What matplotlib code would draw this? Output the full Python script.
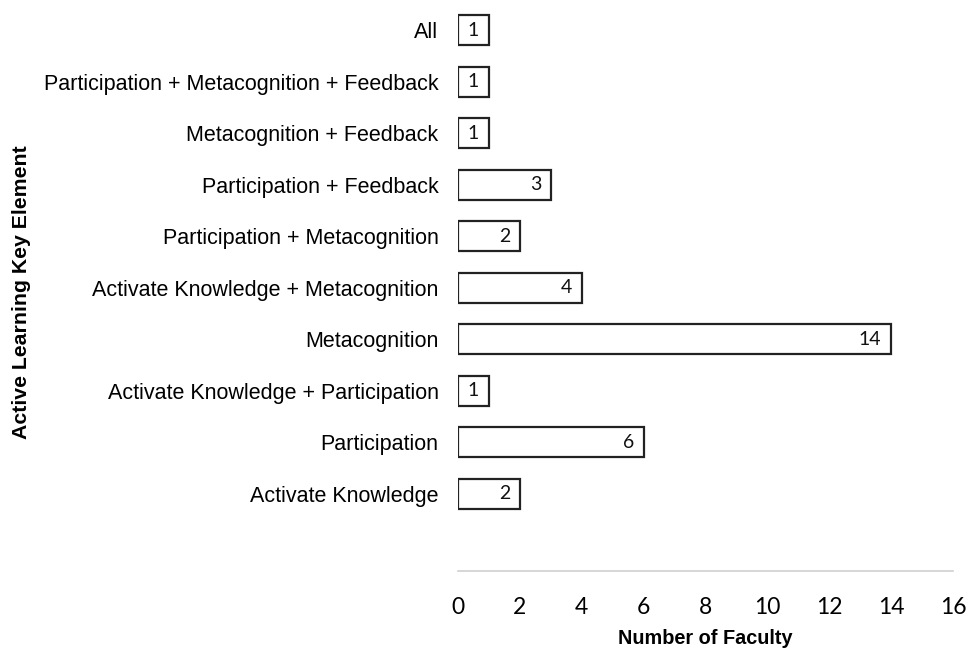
import matplotlib
matplotlib.use("Agg")
import matplotlib.pyplot as plt

categories = [
    "Activate Knowledge",
    "Participation",
    "Activate Knowledge + Participation",
    "Metacognition",
    "Activate Knowledge + Metacognition",
    "Participation + Metacognition",
    "Participation + Feedback",
    "Metacognition + Feedback",
    "Participation + Metacognition + Feedback",
    "All",
]
values = [2, 6, 1, 14, 4, 2, 3, 1, 1, 1]
xticks = [0, 2, 4, 6, 8, 10, 12, 14, 16]

fig = plt.figure(figsize=(9.71, 6.49), dpi=100)
ax = fig.add_axes([458/971, 1-571/649, (953-458)/971, (571-4.5)/649])

ypos = list(range(len(categories)))
ax.barh(ypos, values, height=0.58, color="white", edgecolor="#222222", linewidth=1.6)

for y, v in zip(ypos, values):
    ax.annotate(str(v), (v, y), xytext=(-7, 0), textcoords="offset points",
                ha="right", va="center", fontsize=14, family="Lato", color="#111111")

ax.set_xlim(0, 16)
ax.set_ylim(-1.5, 9.5)
ax.set_xticks(xticks)
ax.set_xticklabels([str(t) for t in xticks], family="Lato", fontsize=16.5)
ax.set_yticks(ypos)
ax.set_yticklabels(categories, family="Liberation Sans", fontsize=15.5)
ax.tick_params(axis="x", length=0, pad=19)
ax.tick_params(axis="y", length=0, pad=14)

for s in ["top", "right", "left"]:
    ax.spines[s].set_visible(False)
ax.spines["bottom"].set_color("#d0d0d0")
ax.spines["bottom"].set_linewidth(1.2)

ax.set_xlabel("Number of Faculty", family="Liberation Sans", fontweight="bold", fontsize=14.3, labelpad=8)
fig.text(22/971, 1-292/649, "Active Learning Key Element", rotation=90, ha="center", va="center",
         family="Liberation Sans", fontweight="bold", fontsize=15.3)

fig.savefig("out.png", dpi=100)
